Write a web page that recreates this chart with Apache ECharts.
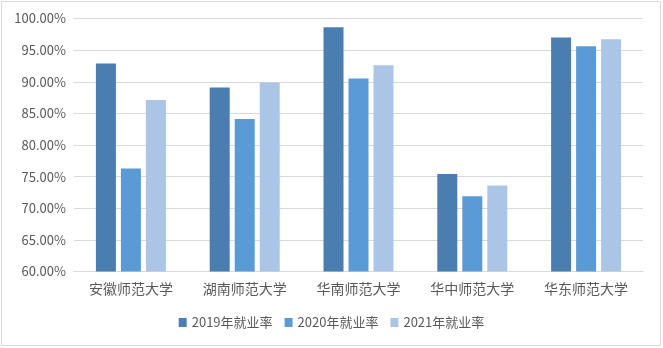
<!DOCTYPE html>
<html><head><meta charset="utf-8">
<script src="https://cdn.jsdelivr.net/npm/echarts@6/dist/echarts.min.js"></script>
<style>html,body{margin:0;padding:0;background:#fff}#c{width:663px;height:348px}</style>
</head><body><div id="c"></div>
<script>
var categories = ['安徽师范大学','湖南师范大学','华南师范大学','华中师范大学','华东师范大学'];
var seriesNames = ['2019年就业率','2020年就业率','2021年就业率'];
var rate2019 = [92.9, 89.1, 98.6, 75.4, 97.0];
var rate2020 = [76.3, 84.1, 90.5, 71.9, 95.6];
var rate2021 = [87.1, 89.9, 92.6, 73.6, 96.7];
var colors = ['#4A7EB0','#5B9BD5','#ABC5E6'];
var font = '"Microsoft YaHei","Noto Sans CJK SC",sans-serif';
var chart = echarts.init(document.getElementById('c'));
var data = [rate2019, rate2020, rate2021];
chart.setOption({
  animation:false,
  graphic:[{type:'rect',shape:{x:1.5,y:1.5,width:659,height:344},style:{fill:'none',stroke:'#d9d9d9',lineWidth:1}}],
  grid:{left:74,right:20,top:18.5,bottom:76.5,containLabel:false},
  legend:{bottom:14,left:'center',itemWidth:8,itemHeight:9,itemGap:12,icon:'rect',
    textStyle:{color:'#595959',fontSize:13,fontFamily:font},data:seriesNames},
  xAxis:{type:'category',data:categories,
    axisLine:{lineStyle:{color:'#d9d9d9'}},axisTick:{show:false},
    axisLabel:{color:'#595959',fontSize:14,fontFamily:font,margin:10}},
  yAxis:{type:'value',min:60,max:100,interval:5,
    axisLine:{show:false},axisTick:{show:false},
    splitLine:{lineStyle:{color:'#d9d9d9'}},
    axisLabel:{color:'#595959',fontSize:13,fontFamily:font,margin:8,formatter:function(v){return v.toFixed(2)+'%';}}},
  series:seriesNames.map(function(n,i){return {name:n,type:'bar',data:data[i],barWidth:20,barGap:'25%',itemStyle:{color:colors[i]}};})
});
</script></body></html>
